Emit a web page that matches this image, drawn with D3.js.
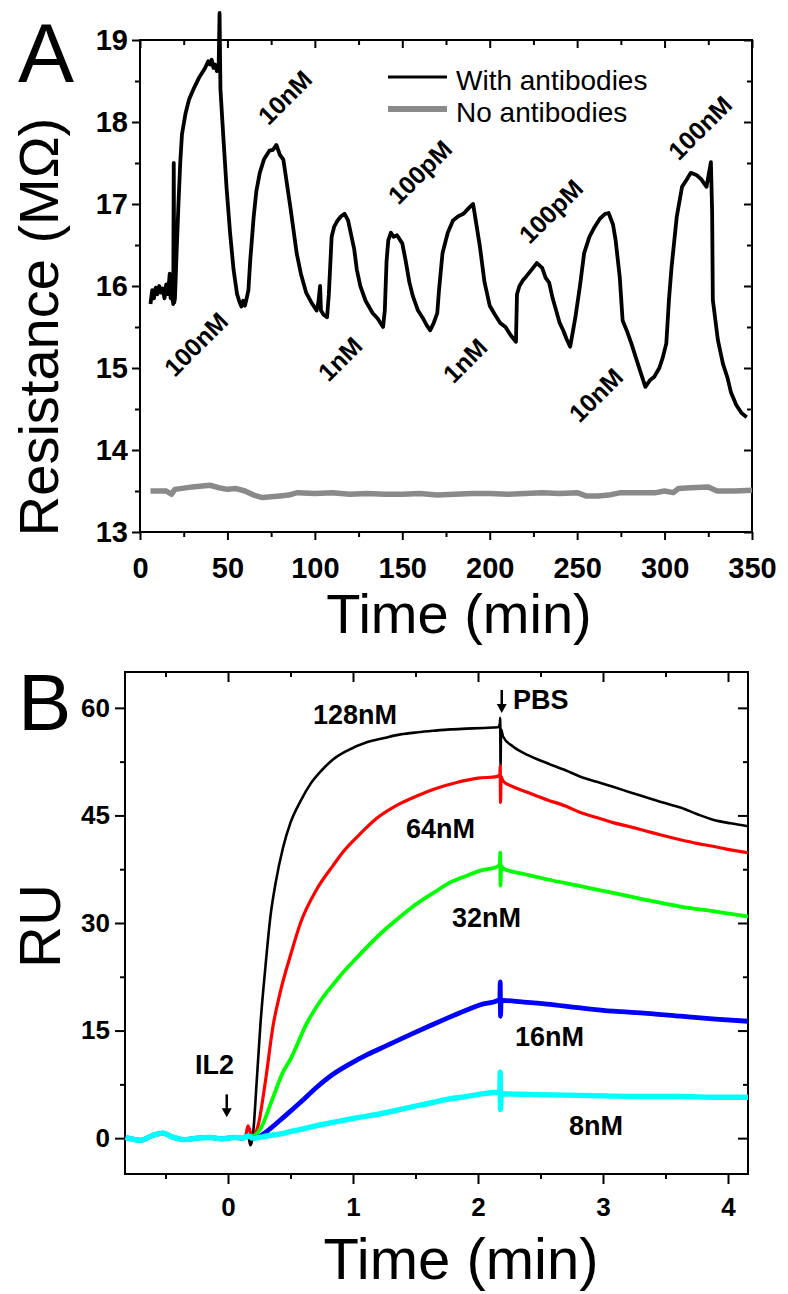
<!DOCTYPE html>
<html>
<head>
<meta charset="utf-8">
<script src="https://cdn.jsdelivr.net/npm/d3@7/dist/d3.min.js"></script>
<style>
	body { margin: 0; background: #fff; }
	svg { display: block; font-family: "Liberation Sans", Arial, sans-serif; }
	.tick text { font-weight: bold; fill: #000; }
	.ann { font-weight: bold; }
</style>
</head>
<body>
<svg id="chart" width="788" height="1294"></svg>
<script>
// ---------- Panel A data (time in min, resistance in MOhm) ----------
const withAbTime = [6,7,8,9,10,11,12,13,14,15,16,17,17.5,18,19,19.3,19.6,20,21,22,23,24,26,28,31,34,37,39,40,41,42,43,44,45,45.5,46,47.5,49.5,51.5,53.5,55.5,57,58,59,60,61,62,63,65,66.5,68.5,71,74,76,78,80,82,84,86,88,89.6,92,95,98,101,102,103,103.5,105,107,108,109.6,111,113,115,117,119,121,122.5,124,126,129,133,136,139,140,141,142,143.5,145,147,150,152,154,156,159,162,164,166,168,170,171,173,176,179,182,185,188,190.5,192,194.4,197,200,203,206,209,212,215,215.6,217,219,221,224,227,230,232,234,236,238,240,242,244,246,247.6,249,251.6,254,257,260,263,266,268,270.5,272,274.4,276,278.5,281,284,287,289,291.6,294,297,299,301,302.5,304,307,310,312.7,315,318.5,321,324,326.5,327.2,327.6,330.5,333.4,336,338,341,344,347,350];
const withAbRes  = [15.78,15.95,15.85,15.98,15.9,16.0,15.92,15.97,15.85,16.02,15.9,16.15,15.85,15.95,15.78,17.5,15.8,15.85,16.45,17.0,17.5,17.85,18.1,18.27,18.42,18.55,18.65,18.74,18.7,18.76,18.66,18.7,18.62,18.7,19.33,18.4,17.87,17.2,16.65,16.2,15.9,15.8,15.75,15.82,15.76,15.85,15.95,16.3,16.84,17.15,17.38,17.55,17.65,17.66,17.72,17.6,17.54,17.25,16.96,16.65,16.4,16.15,15.92,15.8,15.7,15.8,16.0,15.7,15.65,15.62,15.9,16.6,16.72,16.8,16.85,16.88,16.8,16.6,16.45,16.2,16.0,15.82,15.67,15.6,15.5,15.7,16.3,16.56,16.65,16.6,16.62,16.52,16.3,16.05,15.88,15.7,15.6,15.52,15.46,15.55,15.67,15.95,16.4,16.65,16.8,16.85,16.88,16.95,17.0,16.8,16.48,16.05,15.76,15.65,15.55,15.5,15.4,15.32,15.9,16.0,16.07,16.12,16.2,16.28,16.22,16.1,16.04,15.85,15.7,15.55,15.46,15.35,15.26,15.45,15.62,16.0,16.4,16.6,16.72,16.82,16.88,16.89,16.75,16.56,16.1,15.58,15.45,15.3,15.1,14.9,14.77,14.85,14.89,15.0,15.13,15.3,15.83,16.23,16.85,17.21,17.3,17.38,17.35,17.3,17.21,17.51,16.9,15.83,15.34,15.05,14.88,14.7,14.55,14.45,14.4];

const noAbTime = [6,15,18,20,30,40,45,50,55,60,65,70,75,80,85,90,100,110,120,130,140,150,160,170,180,190,200,210,220,230,240,250,255,262,268,275,285,295,300,305,308,315,325,330,340,350];
const noAbRes  = [13.5,13.5,13.46,13.52,13.55,13.57,13.54,13.52,13.53,13.5,13.45,13.42,13.43,13.44,13.45,13.48,13.47,13.48,13.46,13.47,13.46,13.46,13.47,13.45,13.46,13.47,13.47,13.46,13.47,13.48,13.47,13.48,13.44,13.44,13.45,13.48,13.48,13.48,13.5,13.48,13.53,13.54,13.55,13.5,13.5,13.51];

const concLabels = ["10nM","100nM","1nM","100pM","1nM","100pM","10nM","100nM"];
const concTime   = [82.9, 32.0, 114.4, 160.1, 185.9, 235.0, 260.8, 320.3];
const concRes    = [18.30, 15.29, 15.11, 17.39, 15.09, 16.91, 14.67, 17.93];

const xTicksA = [0,50,100,150,200,250,300,350];
const yTicksA = [13,14,15,16,17,18,19];

// ---------- Panel B data (time in min, RU) ----------
const baseTime = [-0.82,-0.7,-0.6,-0.52,-0.45,-0.35,-0.25,-0.15,-0.05,0.05,0.12,0.16];
const baseRU   = [0.1,-0.3,0.4,0.7,0.2,-0.2,0.0,0.1,-0.1,0.1,0.0,0.3];

const t128  = [0.18,0.2,0.23,0.26,0.3,0.34,0.38,0.44,0.5,0.58,0.66,0.75,0.84,0.95,1.11,1.25,1.38,1.52,1.64,1.78,1.91,2.05,2.16,2.175,2.178,2.18,2.185,2.2,2.28,2.4,2.55,2.7,2.82,2.95,3.08,3.22,3.35,3.48,3.62,3.75,3.88,4.02,4.16];
const ru128 = [-1.0,0.5,8,16,24,31,35.5,40.5,44,47,49.4,51.3,52.8,54.0,55.2,55.8,56.3,56.6,56.8,57.0,57.1,57.2,57.3,57.8,58.6,51.8,57.0,56.0,54.6,53.4,52.3,51.3,50.4,49.7,49.0,48.2,47.5,46.8,46.1,45.2,44.4,43.9,43.5];

const t64  = [0.14,0.16,0.18,0.2,0.24,0.3,0.36,0.42,0.5,0.58,0.71,0.84,0.92,1.05,1.19,1.35,1.51,1.67,1.83,2.0,2.15,2.175,2.178,2.18,2.185,2.2,2.28,2.4,2.55,2.7,2.82,2.95,3.08,3.22,3.35,3.48,3.62,3.75,3.88,4.02,4.16];
const ru64 = [0.3,1.7,0.8,0.3,1.7,8,15.6,20.5,25.5,30,34.7,38.0,39.9,42.3,44.6,46.4,47.7,48.8,49.6,50.2,50.4,50.7,51.9,46.8,50.4,49.8,49.0,48.2,47.2,46.3,45.4,44.7,44.0,43.4,42.8,42.2,41.6,41.1,40.7,40.2,39.8];

const t32  = [0.2,0.26,0.35,0.44,0.5,0.63,0.75,0.84,0.92,1.0,1.22,1.38,1.48,1.67,1.75,1.91,2.02,2.16,2.175,2.178,2.18,2.185,2.2,2.35,2.55,2.8,3.08,3.35,3.62,3.9,4.16];
const ru32 = [0.3,1.3,5.2,9.2,11,16.0,19.4,21.4,23.1,24.6,28.5,30.9,32.3,34.5,35.4,36.6,37.3,37.9,38.2,39.8,35.2,38.0,37.6,36.9,36.1,35.2,34.2,33.2,32.3,31.6,30.9];

const t16  = [0.2,0.25,0.3,0.45,0.58,0.71,0.84,0.98,1.11,1.22,1.38,1.48,1.62,1.75,1.9,2.02,2.16,2.175,2.178,2.18,2.185,2.2,2.35,2.55,2.8,3.08,3.35,3.62,3.9,4.16];
const ru16 = [0.0,0.2,0.8,3.0,5.0,7.1,8.9,10.4,11.6,12.5,13.8,14.6,15.7,16.7,17.8,18.6,19.2,19.4,21.8,17.0,19.2,19.2,19.0,18.7,18.2,17.7,17.4,17.0,16.6,16.3];

const t8  = [0.2,0.31,0.45,0.6,0.84,1.05,1.22,1.38,1.48,1.62,1.75,1.9,2.05,2.16,2.175,2.178,2.18,2.185,2.2,2.4,2.7,3.0,3.3,3.6,3.9,4.16];
const ru8 = [0.0,0.3,0.7,1.3,2.2,2.9,3.4,4.0,4.4,4.9,5.4,5.8,6.2,6.4,6.4,9.2,4.0,6.3,6.2,6.1,6.0,5.9,5.8,5.8,5.7,5.7];

const seriesB = [
	{ name: "128nM", color: "#000000", width: 2.6, time: t128, ru: ru128 },
	{ name: "64nM",  color: "#ff0000", width: 3.2, time: t64, ru: ru64 },
	{ name: "32nM",  color: "#00ff00", width: 3.8, time: t32, ru: ru32 },
	{ name: "16nM",  color: "#0000ff", width: 4.8, time: t16, ru: ru16 },
	{ name: "8nM",   color: "#00ffff", width: 5.4, time: t8, ru: ru8 }
];

const labelB     = ["128nM","64nM","32nM","16nM","8nM","PBS","IL2"];
const labelBTime = [0.68, 1.424, 1.792, 2.296, 2.728, 2.28, -0.264];
const labelBRU   = [57.7, 41.8, 29.5, 12.8, 0.5, 59.8, 8.9];

const xTicksB = [0,1,2,3,4];
const yTicksB = [0,15,30,45,60];

// ---------- setup ----------
const svg = d3.select('#chart');
const font = '"Liberation Sans", Arial, sans-serif';

const xA = d3.scaleLinear().domain([0, 350]).range([140, 752]);
const yA = d3.scaleLinear().domain([13, 19]).range([532, 40]);
const xB = d3.scaleLinear().domain([-0.824, 4.16]).range([125, 748]);
const yB = d3.scaleLinear().domain([-5, 65]).range([1174, 672]);

// draws the frame with outward ticks bottom/left and inward mirror ticks top/right
const drawFrame = (x, y, o) => {
	let g = svg.append('g');
	let [x0, x1] = x.range();
	let [y0, y1] = y.range();

	// minor ticks
	g.append('g').attr('transform', `translate(0,${y0})`)
		.call(d3.axisBottom(x).tickValues(o.xMinor).tickSize(5).tickFormat(''));
	g.append('g').attr('transform', `translate(0,${y1})`)
		.call(d3.axisTop(x).tickValues(o.xMinor).tickSize(-5).tickFormat(''));
	g.append('g').attr('transform', `translate(${x0},0)`)
		.call(d3.axisLeft(y).tickValues(o.yMinor).tickSize(5).tickFormat(''));
	g.append('g').attr('transform', `translate(${x1},0)`)
		.call(d3.axisRight(y).tickValues(o.yMinor).tickSize(-5).tickFormat(''));

	// major ticks with labels
	let bx = g.append('g').attr('transform', `translate(0,${y0})`)
		.call(d3.axisBottom(x).tickValues(o.xTicks).tickSize(o.tick).tickPadding(o.xPad).tickFormat(d3.format('d')));
	let ly = g.append('g').attr('transform', `translate(${x0},0)`)
		.call(d3.axisLeft(y).tickValues(o.yTicks).tickSize(o.tick).tickPadding(o.yPad).tickFormat(d3.format('d')));
	g.append('g').attr('transform', `translate(0,${y1})`)
		.call(d3.axisTop(x).tickValues(o.xTicks).tickSize(-o.tick).tickFormat(''));
	g.append('g').attr('transform', `translate(${x1},0)`)
		.call(d3.axisRight(y).tickValues(o.yTicks).tickSize(-o.tick).tickFormat(''));

	g.selectAll('.domain').remove();
	g.selectAll('.tick line').attr('stroke', '#000').attr('stroke-width', 2);
	g.selectAll('.tick text').attr('font-family', font);
	bx.selectAll('text').attr('font-size', o.fs);
	ly.selectAll('text').attr('font-size', o.fs);

	g.append('rect')
		.attr('x', x0).attr('y', y1)
		.attr('width', x1 - x0).attr('height', y0 - y1)
		.attr('fill', 'none').attr('stroke', '#000').attr('stroke-width', 2);
};

// ---------- Panel A ----------
drawFrame(xA, yA, {
	xTicks: xTicksA, yTicks: yTicksA,
	xMinor: xTicksA.slice(0, -1).map(d => d + 25),
	yMinor: yTicksA.slice(0, -1).map(d => d + 0.5),
	tick: 8, xPad: 17, yPad: 4, fs: 29
});

const lineA = d3.line().x(d => xA(d[0])).y(d => yA(d[1]));

svg.append('path')
	.datum(noAbTime.map((t, i) => [t, noAbRes[i]]))
	.attr('d', lineA)
	.attr('fill', 'none').attr('stroke', '#8a8a8a')
	.attr('stroke-width', 5.5).attr('stroke-linejoin', 'round');

svg.append('path')
	.datum(withAbTime.map((t, i) => [t, withAbRes[i]]))
	.attr('d', lineA)
	.attr('fill', 'none').attr('stroke', '#000')
	.attr('stroke-width', 3.8).attr('stroke-linejoin', 'round');

// rotated concentration labels
svg.selectAll('.annA')
	.data(concLabels)
	.enter()
	.append('text')
	.attr('class', 'ann')
	.attr('font-family', font)
	.attr('font-size', 25)
	.attr('text-anchor', 'middle')
	.attr('dy', '0.35em')
	.attr('transform', (d, i) => `translate(${xA(concTime[i])},${yA(concRes[i])}) rotate(-45)`)
	.text(d => d);

// legend
let legend = svg.append('g').attr('transform', 'translate(388,0)');
legend.append('line').attr('x1', 0).attr('x2', 59).attr('y1', 77).attr('y2', 77)
	.attr('stroke', '#000').attr('stroke-width', 3);
legend.append('line').attr('x1', 0).attr('x2', 59).attr('y1', 109).attr('y2', 109)
	.attr('stroke', '#8a8a8a').attr('stroke-width', 6);
legend.append('text').attr('x', 68).attr('y', 90).attr('font-size', 28).attr('font-family', font)
	.text('With antibodies');
legend.append('text').attr('x', 68).attr('y', 122).attr('font-size', 28).attr('font-family', font)
	.text('No antibodies');

// titles
svg.append('text').attr('x', 18).attr('y', 82).attr('font-size', 84).attr('font-family', font).text('A');
svg.append('text').attr('font-size', 56).attr('font-family', font)
	.attr('text-anchor', 'middle')
	.attr('transform', 'translate(58,327) rotate(-90)')
	.text('Resistance (MΩ)');
svg.append('text').attr('font-size', 56).attr('font-family', font)
	.attr('text-anchor', 'middle')
	.attr('x', 459).attr('y', 633)
	.text('Time (min)');

// ---------- Panel B ----------
drawFrame(xB, yB, {
	xTicks: xTicksB, yTicks: yTicksB,
	xMinor: [-0.5, 0.5, 1.5, 2.5, 3.5],
	yMinor: [7.5, 22.5, 37.5, 52.5],
	tick: 10, xPad: 14, yPad: 5, fs: 26
});

const lineB = d3.line().curve(d3.curveMonotoneX).x(d => xB(d[0])).y(d => yB(d[1]));

for (let s of seriesB) {
	let pts = baseTime.map((t, i) => [t, baseRU[i]]).concat(s.time.map((t, i) => [t, s.ru[i]]));
	svg.append('path')
		.datum(pts)
		.attr('d', lineB)
		.attr('fill', 'none')
		.attr('stroke', s.color)
		.attr('stroke-width', s.width)
		.attr('stroke-linejoin', 'round');
}

svg.selectAll('.annB')
	.data(labelB)
	.enter()
	.append('text')
	.attr('class', 'ann')
	.attr('font-family', font)
	.attr('font-size', 27)
	.attr('x', (d, i) => xB(labelBTime[i]))
	.attr('y', (d, i) => yB(labelBRU[i]))
	.text(d => d);

// arrows for PBS and IL2
const arrowT  = [2.19, -0.01];
const arrowY0 = [62.5, 6.1];
const arrowY1 = [59.3, 2.9];
arrowT.forEach((t, i) => {
	let x = xB(t), ya = yB(arrowY0[i]), yb = yB(arrowY1[i]);
	svg.append('line').attr('x1', x).attr('x2', x).attr('y1', ya).attr('y2', yb - 6)
		.attr('stroke', '#000').attr('stroke-width', 2.5);
	svg.append('path')
		.attr('d', `M${x - 5},${yb - 9}L${x + 5},${yb - 9}L${x},${yb}Z`)
		.attr('fill', '#000');
});

svg.append('text').attr('x', 18).attr('y', 730).attr('font-size', 80).attr('font-family', font).text('B');
svg.append('text').attr('font-size', 58).attr('font-family', font)
	.attr('text-anchor', 'middle')
	.attr('transform', 'translate(60,926) rotate(-90)')
	.text('RU');
svg.append('text').attr('font-size', 58).attr('font-family', font)
	.attr('text-anchor', 'middle')
	.attr('x', 461).attr('y', 1279)
	.text('Time (min)');
</script>
</body>
</html>
